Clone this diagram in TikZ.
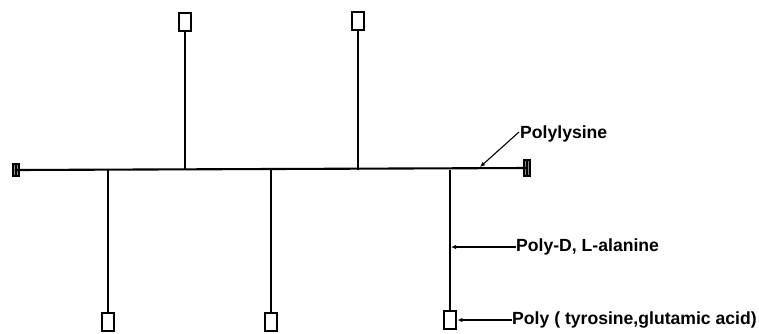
\documentclass[tikz,border=0pt]{standalone}
\usepackage{fontspec}
\setmainfont{Liberation Sans}
\usetikzlibrary{arrows.meta}
\begin{document}
\begin{tikzpicture}[x=1pt,y=-1pt,
  chain/.style={line width=2.1pt},
  tipbox/.style={draw,line width=2.3pt,minimum width=12.5pt,minimum height=17.5pt,inner sep=0pt},
  endcap/.style={fill=black,minimum width=8pt,minimum height=14pt,inner sep=0pt,
    path picture={
      \foreach \dx in {-1.5pt,1.5pt}
        \draw[black!45,line width=0.4pt]
          ([xshift=\dx,yshift=-2pt]path picture bounding box.north) --
          ([xshift=\dx,yshift=2pt]path picture bounding box.south);}},
  lbl/.style={anchor=west,inner sep=0pt,font=\fontsize{17.6}{20}\selectfont\bfseries},
  ptr/.style={line width=1.1pt,-{Latex[length=5pt,width=4.5pt]}}
]
\useasboundingbox (0,0) rectangle (759,333);

% backbone with its two end groups
\node[endcap] (capL) at (16,170) {};
\node[endcap,minimum height=18pt] (capR) at (527,168) {};
\draw[chain] (capL.center) -- (capR.center);

% side chains above the backbone
\node[tipbox] (t1) at (185,22) {};
\node[tipbox] (t2) at (358,21) {};
\draw[chain] (t1.south) -- (t1.south |- capL);
\draw[chain] (t2.south) -- (t2.south |- capL);

% side chains below the backbone
\node[tipbox] (b1) at (108,322) {};
\node[tipbox] (b2) at (271,322) {};
\node[tipbox] (b3) at (450,320) {};
\draw[chain] (b1.north) -- (b1.north |- capL);
\draw[chain] (b2.north) -- (b2.north |- capL);
\draw[chain] (b3.north) -- (b3.north |- capL);

% labels
\node[lbl] (lys) at (520,134) {Polylysine};
\node[lbl] (ala) at (516,247) {Poly-D, L-alanine};
\node[lbl] (tyr) at (512,320) {Poly ( tyrosine,glutamic acid)};

\coordinate (lysTip) at (480,167);
\coordinate (alaTip) at (451,247);
\draw[ptr] ([xshift=-1pt,yshift=2pt]lys.west) -- (lysTip);
\draw[ptr] (ala.west) -- (alaTip);
\draw[ptr] (tyr.west) -- (b3.east);
\end{tikzpicture}
\end{document}
